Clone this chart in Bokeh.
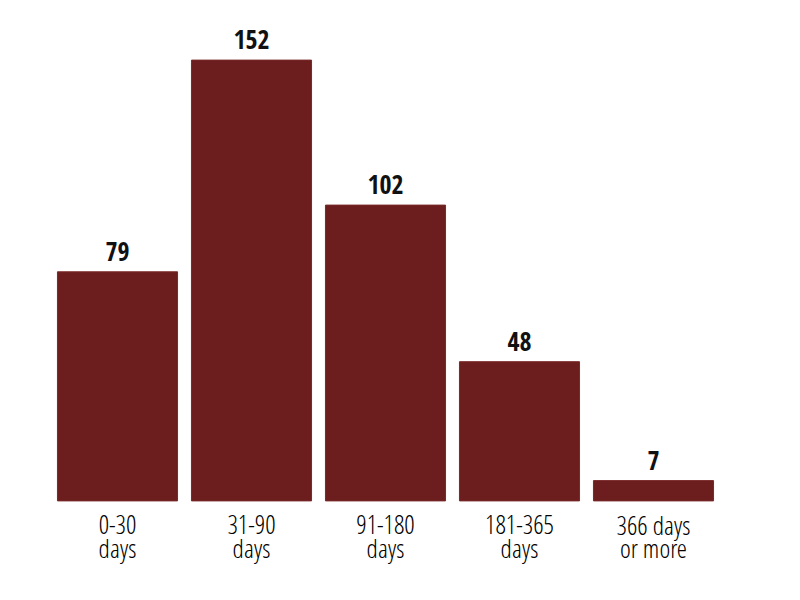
from bokeh.plotting import figure
from bokeh.models import FactorRange, Range1d, ColumnDataSource
from bokeh.core.properties import value
from bokeh.embed import file_html
from bokeh.resources import INLINE

categories = ["0-30 days", "31-90 days", "91-180 days", "181-365 days", "366 days or more"]
counts = [79, 152, 102, 48, 7]
label_line1 = ["0-30", "31-90", "91-180", "181-365", "366 days"]
label_line2 = ["days", "days", "days", "days", "or more"]

src = ColumnDataSource(dict(cat=categories, count=counts,
                            lbl=[str(c) for c in counts],
                            l1=label_line1, l2=label_line2,
                            y1=[-8.2] * len(categories), y2=[-16.3] * len(categories)))

FONT_BOLD = "Open Sans Condensed"
FONT_REG = "Open Sans Condensed Light"

p = figure(width=784, height=580, output_backend="svg", toolbar_location=None,
           x_range=FactorRange(factors=categories), y_range=Range1d(-24, 166),
           x_axis_location=None, y_axis_location=None,
           min_border_left=50, min_border_right=64, min_border_top=19, min_border_bottom=10)
p.outline_line_color = None
p.grid.visible = False
p.background_fill_color = "white"
p.border_fill_color = "white"

p.vbar(x="cat", top="count", bottom=0, width=0.896, source=src,
       fill_color="#6c1e1f", line_color="#7a2828", line_width=1)

p.text(x="cat", y="count", text="lbl", source=src, y_offset=-11,
       text_align="center", text_baseline="bottom",
       text_font=value(FONT_BOLD), text_font_style="bold", text_font_size="26px",
       text_color="#111111")

p.text(x="cat", y="y1", text="l1", source=src,
       text_align="center", text_baseline="middle",
       text_font=value(FONT_REG), text_font_size="26px", text_color="#000000")
p.text(x="cat", y="y2", text="l2", source=src,
       text_align="center", text_baseline="middle",
       text_font=value(FONT_REG), text_font_size="26px", text_color="#000000")

open("out.html", "w").write(file_html(p, INLINE))
